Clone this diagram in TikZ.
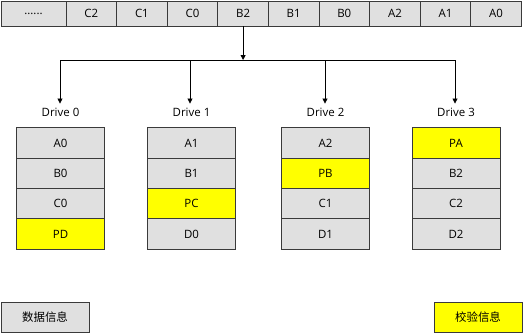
\documentclass[tikz,border=0pt]{standalone}
\usepackage{fontspec}
\setmainfont{Open Sans}
\newfontfamily\cjk{Noto Sans CJK SC}
\usetikzlibrary{positioning,arrows.meta}

\definecolor{cellgray}{HTML}{E0E0E0}
\definecolor{parityyellow}{HTML}{FFFF00}
\definecolor{edgegray}{HTML}{3A3A3A}

\tikzset{
  cell/.style={draw=edgegray,fill=cellgray,line width=0.9bp,inner sep=0pt,outer sep=0pt,
    minimum width=88bp,minimum height=30.4bp,font=\fontsize{11.5}{13}\selectfont},
  pcell/.style={cell,fill=parityyellow},
  stripcell/.style={cell,minimum width=50.6bp,minimum height=25bp},
  drivelabel/.style={inner sep=1pt,font=\fontsize{11.5}{13}\selectfont},
  arr/.style={line width=0.8bp,-{Triangle[length=5bp,width=5bp]}}
}

\begin{document}
\begin{tikzpicture}[x=1bp,y=-1bp]
  \useasboundingbox (0,0) rectangle (527,334);
  % stripe on the host side
  \node[stripcell,minimum width=65bp] (s0) at (33.5,13.5) {......};
  \foreach \lab [count=\i, evaluate=\i as \j using int(\i-1)] in {C2,C1,C0,B2,B1,B0,A2,A1,A0}
    \node[stripcell,right=0pt of s\j] (s\i) {\lab};
  % bus
  \coordinate (drop0) at (60,60);
  \coordinate (drop1) at (190,60);
  \coordinate (drop2) at (325,60);
  \coordinate (drop3) at (455,60);
  \draw[line width=0.8bp] (drop0) -- (drop3);
  \draw[arr] (s4.south) -- (s4.south |- drop0);
  % drives
  \foreach \d/\x/\cells in {0/60.5/{A0/cell,B0/cell,C0/cell,PD/pcell},
                            1/191.5/{A1/cell,B1/cell,PC/pcell,D0/cell},
                            2/325.5/{A2/cell,PB/pcell,C1/cell,D1/cell},
                            3/456/{PA/pcell,B2/cell,C2/cell,D2/cell}} {
    \node[drivelabel] (dl\d) at (\x,112) {Drive \d};
    \draw[arr,shorten >=3bp] (drop\d) -- (drop\d |- dl\d.north);
    \foreach \lab/\sty [count=\r] in \cells
      \node[\sty] (d\d-\r) at (\x,112.5+30.4*\r) {\lab};
  }
  % legend
  \node[cell] (legdata) at (45,317.5) {\cjk 数据信息};
  \node[pcell] (legparity) at (478,317.5) {\cjk 校验信息};
\end{tikzpicture}
\end{document}
